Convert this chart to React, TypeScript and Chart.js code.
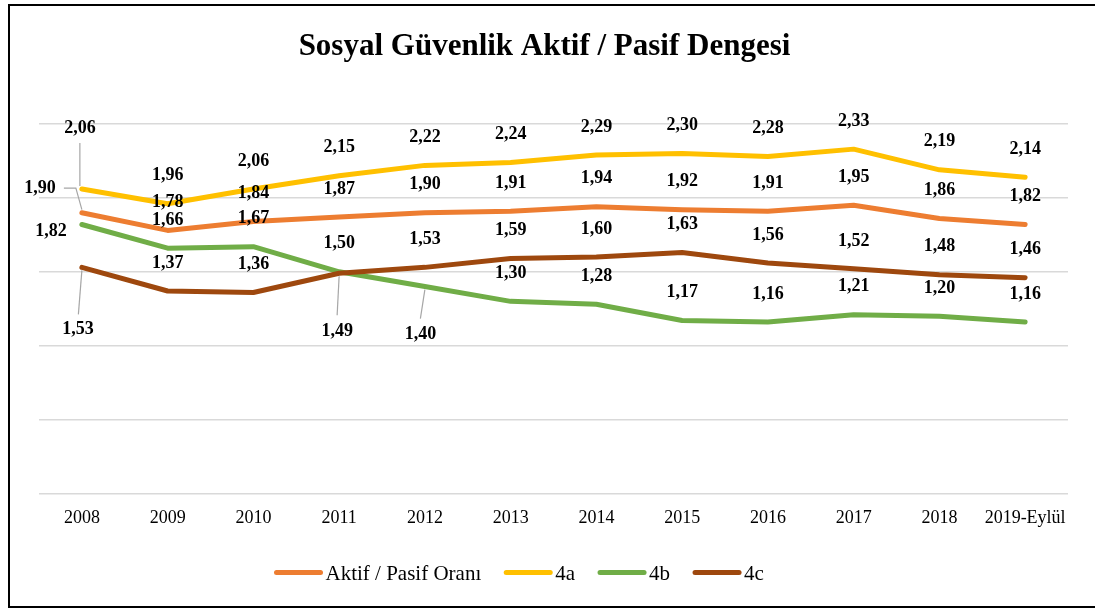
import React, { useEffect, useRef } from 'react';
import { Chart, registerables } from 'chart.js';

Chart.register(...registerables);

// ---- data ----
const categories = ['2008', '2009', '2010', '2011', '2012', '2013', '2014', '2015', '2016', '2017', '2018', '2019-Eylül'];
const aktifPasif = [1.90, 1.78, 1.84, 1.87, 1.90, 1.91, 1.94, 1.92, 1.91, 1.95, 1.86, 1.82];
const seri4a = [2.06, 1.96, 2.06, 2.15, 2.22, 2.24, 2.29, 2.30, 2.28, 2.33, 2.19, 2.14];
const seri4b = [1.82, 1.66, 1.67, 1.50, 1.40, 1.30, 1.28, 1.17, 1.16, 1.21, 1.20, 1.16];
const seri4c = [1.53, 1.37, 1.36, 1.49, 1.53, 1.59, 1.60, 1.63, 1.56, 1.52, 1.48, 1.46];
const seriesNames = ['Aktif / Pasif Oranı', '4a', '4b', '4c'];
const yMin = 0;
const yMax = 2.5;
const yStep = 0.5;
const TITLE = 'Sosyal Güvenlik Aktif / Pasif Dengesi';

// ---- styles ----
const COLORS = ['#ED7D31', '#FFC000', '#70AD47', '#9E480E'];
const SERIF = "'Liberation Serif', 'Times New Roman', serif";

// label placement overrides (dataset:index) relative to the point
const labelOverrides: Record<string, { dx: number; dy: number; leader?: [number, number][] }> = {
  '1:0': { dx: -2, dy: -61, leader: [[-2, -46], [-2, -3]] },
  '0:0': { dx: -42, dy: -24, leader: [[-18, -24.5], [-6, -24.5], [0, -3]] },
  '2:0': { dx: -31, dy: 7 },
  '3:0': { dx: -4, dy: 62, leader: [[-3.5, 47], [0, 3]] },
  '3:3': { dx: -2, dy: 58, leader: [[-2, 42], [0, 3]] },
  '2:4': { dx: -4.5, dy: 48, leader: [[-4.5, 32], [0, 3]] },
};

const fmt = (v: number) => v.toFixed(2).replace('.', ',');

const dataLabelPlugin = {
  id: 'dataLabels',
  afterDatasetsDraw(chart: any) {
    const ctx = chart.ctx as CanvasRenderingContext2D;
    ctx.save();
    ctx.font = `bold 18px ${SERIF}`;
    ctx.textAlign = 'center';
    ctx.textBaseline = 'middle';
    chart.data.datasets.forEach((ds: any, di: number) => {
      const meta = chart.getDatasetMeta(di);
      meta.data.forEach((pt: any, i: number) => {
        const v = ds.data[i] as number;
        const o = labelOverrides[`${di}:${i}`];
        const dx = o ? o.dx : 0;
        const dy = o ? o.dy : -28;
        if (o && o.leader) {
          ctx.strokeStyle = '#A6A6A6';
          ctx.lineWidth = 1.2;
          ctx.beginPath();
          o.leader.forEach(([lx, ly], k) => {
            if (k === 0) ctx.moveTo(pt.x + lx, pt.y + ly);
            else ctx.lineTo(pt.x + lx, pt.y + ly);
          });
          ctx.stroke();
        }
        ctx.fillStyle = '#000';
        ctx.fillText(fmt(v), pt.x + dx, pt.y + dy);
      });
    });
    ctx.restore();
  },
};

const framePlugin = {
  id: 'frame',
  afterDraw(chart: any) {
    const ctx = chart.ctx as CanvasRenderingContext2D;
    ctx.save();
    // border
    ctx.strokeStyle = '#000';
    ctx.lineWidth = 2;
    ctx.strokeRect(9, 5, 1200, 602);
    // title
    ctx.fillStyle = '#000';
    ctx.font = `bold 31px ${SERIF}`;
    ctx.textAlign = 'center';
    ctx.textBaseline = 'alphabetic';
    ctx.fillText(TITLE, 544.5, 55);
    // legend
    ctx.font = `21px ${SERIF}`;
    ctx.textAlign = 'left';
    let x = 276.5;
    const ly = 572.5;
    chart.data.datasets.forEach((ds: any) => {
      ctx.strokeStyle = ds.borderColor;
      ctx.lineWidth = 5;
      ctx.lineCap = 'round';
      ctx.beginPath();
      ctx.moveTo(x, ly);
      ctx.lineTo(x + 44, ly);
      ctx.stroke();
      const tx = x + 49;
      ctx.fillStyle = '#000';
      ctx.fillText(ds.label, tx, 579.5);
      x = tx + ctx.measureText(ds.label).width + 25;
    });
    ctx.restore();
  },
};

export default function App() {
  const ref = useRef<HTMLCanvasElement | null>(null);

  useEffect(() => {
    if (!ref.current) return;
    const series = [aktifPasif, seri4a, seri4b, seri4c];
    const chart = new Chart(ref.current, {
      type: 'line',
      data: {
        labels: categories,
        datasets: series.map((d, i) => ({
          label: seriesNames[i],
          data: d,
          borderColor: COLORS[i],
          backgroundColor: COLORS[i],
          borderWidth: 5,
          pointRadius: 0,
          tension: 0,
          fill: false,
          borderJoinStyle: 'round' as const,
          borderCapStyle: 'round' as const,
          order: 4 - i,
        })),
      },
      options: {
        responsive: false,
        animation: false,
        layout: { padding: { left: 39, right: 27, top: 124, bottom: 0 } },
        plugins: {
          legend: { display: false },
          title: { display: false },
          tooltip: { enabled: false },
        },
        scales: {
          x: {
            offset: true,
            grid: { display: false },
            border: { display: false },
            ticks: {
              color: '#000',
              font: { family: SERIF, size: 18 },
              padding: 6,
              maxRotation: 0,
              autoSkip: false,
            },
            afterFit: (s: any) => {
              s.height = 116.5;
            },
          },
          y: {
            min: yMin,
            max: yMax,
            ticks: { stepSize: yStep, display: false },
            grid: { color: '#D9D9D9', lineWidth: 1.5, drawTicks: false },
            border: { display: false },
            afterFit: (s: any) => {
              s.width = 0;
            },
          },
        },
      },
      plugins: [dataLabelPlugin, framePlugin],
    });
    return () => chart.destroy();
  }, []);

  return (
    <div style={{ position: 'fixed', left: 0, top: 0, width: 1095, height: 610, background: '#fff' }}>
      <canvas ref={ref} width={1095} height={610} style={{ display: 'block' }} />
    </div>
  );
}
